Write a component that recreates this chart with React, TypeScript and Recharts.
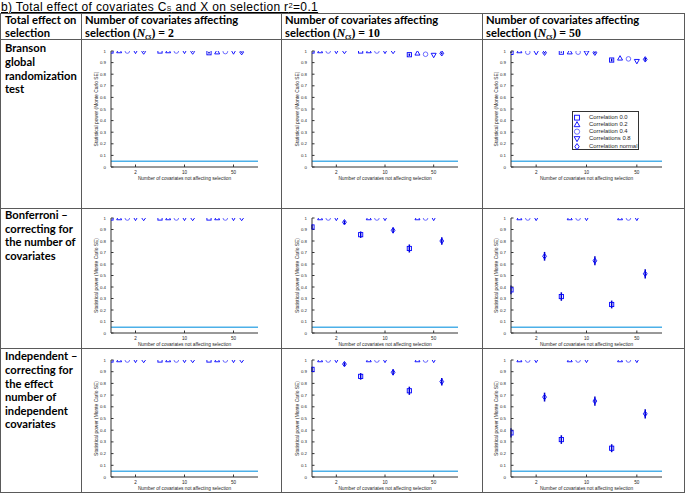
import React from 'react';
import { ScatterChart, Scatter, XAxis, YAxis, ReferenceLine, ErrorBar, Legend } from 'recharts';

// ---------- data ----------
const covariateCounts = ['2', '10', '50']; // x tick labels: number of covariates not affecting selection
const groupPositions = [1, 2, 3];
const seriesNames = ['Correlation 0.0', 'Correlation 0.2', 'Correlation 0.4', 'Correlations 0.8', 'Correlation normal'];
const seriesOffsets = [-0.5, -1 / 3, -1 / 6, 0, 1 / 6];
const yTicks = [0, 0.1, 0.2, 0.3, 0.4, 0.5, 0.6, 0.7, 0.8, 0.9, 1];
const alphaLevel = 0.05;

// rows of each array: series (0.0, 0.2, 0.4, 0.8, normal); columns: 2, 10, 50 covariates
const bransonN2Power = [
  [1.0, 1.0, 0.985],
  [1.0, 1.0, 0.99],
  [1.0, 1.0, 0.995],
  [1.0, 1.0, 0.995],
  [0.995, 0.995, 0.99],
];
const bransonN2SE = [
  [0, 0, 0.006],
  [0, 0, 0.005],
  [0, 0, 0.003],
  [0, 0, 0.003],
  [0.003, 0.003, 0.005],
];
const bransonN10Power = [
  [1.0, 1.0, 0.968],
  [1.0, 1.0, 0.98],
  [1.0, 1.0, 0.972],
  [1.0, 1.0, 0.965],
  [1.0, 1.0, 0.98],
];
const bransonN10SE = [
  [0, 0, 0.01],
  [0, 0, 0.008],
  [0, 0, 0.009],
  [0, 0, 0.011],
  [0, 0, 0.008],
];
const bransonN50Power = [
  [0.988, 0.99, 0.922],
  [1.0, 0.99, 0.937],
  [0.99, 0.99, 0.932],
  [0.99, 0.985, 0.912],
  [0.985, 0.985, 0.928],
];
const bransonN50SE = [
  [0.005, 0.005, 0.013],
  [0, 0.005, 0.012],
  [0.005, 0.005, 0.012],
  [0.005, 0.006, 0.014],
  [0.006, 0.006, 0.013],
];
const bonfN2Power = [
  [1.0, 1.0, 1.0],
  [1.0, 1.0, 1.0],
  [1.0, 1.0, 1.0],
  [1.0, 1.0, 1.0],
  [1.0, 1.0, 1.0],
];
const bonfN2SE = [
  [0, 0, 0],
  [0, 0, 0],
  [0, 0, 0],
  [0, 0, 0],
  [0, 0, 0],
];
const bonfN10Power = [
  [0.922, 0.855, 0.735],
  [1.0, 1.0, 1.0],
  [1.0, 1.0, 1.0],
  [1.0, 1.0, 1.0],
  [0.963, 0.893, 0.8],
];
const bonfN10SE = [
  [0.022, 0.028, 0.035],
  [0, 0, 0],
  [0, 0, 0],
  [0, 0, 0],
  [0.015, 0.025, 0.032],
];
const bonfN50Power = [
  [0.375, 0.317, 0.248],
  [1.0, 1.0, 1.0],
  [1.0, 1.0, 1.0],
  [1.0, 1.0, 1.0],
  [0.667, 0.628, 0.515],
];
const bonfN50SE = [
  [0.039, 0.037, 0.034],
  [0, 0, 0],
  [0, 0, 0],
  [0, 0, 0],
  [0.038, 0.039, 0.04],
];
const indepN2Power = [
  [1.0, 1.0, 1.0],
  [1.0, 1.0, 1.0],
  [1.0, 1.0, 1.0],
  [1.0, 1.0, 1.0],
  [1.0, 1.0, 1.0],
];
const indepN2SE = [
  [0, 0, 0],
  [0, 0, 0],
  [0, 0, 0],
  [0, 0, 0],
  [0, 0, 0],
];
const indepN10Power = [
  [0.92, 0.86, 0.737],
  [1.0, 1.0, 1.0],
  [1.0, 1.0, 1.0],
  [1.0, 1.0, 1.0],
  [0.965, 0.895, 0.815],
];
const indepN10SE = [
  [0.022, 0.028, 0.035],
  [0, 0, 0],
  [0, 0, 0],
  [0, 0, 0],
  [0.015, 0.025, 0.032],
];
const indepN50Power = [
  [0.377, 0.32, 0.246],
  [1.0, 1.0, 1.0],
  [1.0, 1.0, 1.0],
  [1.0, 1.0, 1.0],
  [0.683, 0.649, 0.54],
];
const indepN50SE = [
  [0.039, 0.037, 0.034],
  [0, 0, 0],
  [0, 0, 0],
  [0, 0, 0],
  [0.038, 0.039, 0.04],
];

const rowLabels = [
  ['Branson', 'global', 'randomization', 'test'],
  ['Bonferroni –', 'correcting for', 'the number of', 'covariates'],
  ['Independent –', 'correcting for', 'the effect', 'number of', 'independent', 'covariates'],
];
const ncsValues = ['2', '10', '50'];

// ---------- styling / layout ----------
const BLUE = '#0000ff';
const ERR = '#0000c8';
const AXIS = '#333333';
const TXT = '#262626';
const CYAN = '#4db0e8';
const BORDER = '#5a5a5a';
const TABLE_FONT = "Lato, 'Open Sans', sans-serif";
const TITLE_FONT = "'Liberation Sans', Arial, sans-serif";
const PLOT_FONT = "'Liberation Sans', Arial, sans-serif";
const MATH_FONT = "'Liberation Serif', 'DejaVu Serif', serif";

const colPlotX = [
  [111, 258],
  [312, 458],
  [511, 662],
];
const rowPlotY = [
  [51, 167],
  [218, 333],
  [360, 477],
];

function Marker({ kind, cx, cy, big }: { kind: number; cx: number; cy: number; big?: boolean }) {
  const k = big ? 1.15 : 1;
  const sw = 0.9;
  if (kind === 0) {
    const s = 4.2 * k;
    return <rect x={cx - s / 2} y={cy - s / 2} width={s} height={s} fill="none" stroke={BLUE} strokeWidth={sw} />;
  }
  if (kind === 1) {
    const w = 5 * k, h = 4.4 * k;
    return (
      <polygon
        points={`${cx},${cy - h * 0.6} ${cx - w / 2},${cy + h * 0.4} ${cx + w / 2},${cy + h * 0.4}`}
        fill="none"
        stroke={BLUE}
        strokeWidth={sw}
      />
    );
  }
  if (kind === 2) {
    return <circle cx={cx} cy={cy} r={2.3 * k} fill="none" stroke="#4a4aff" strokeWidth={0.8} />;
  }
  if (kind === 3) {
    const w = 5 * k, h = 4.4 * k;
    return (
      <polygon
        points={`${cx},${cy + h * 0.6} ${cx - w / 2},${cy - h * 0.4} ${cx + w / 2},${cy - h * 0.4}`}
        fill="none"
        stroke={BLUE}
        strokeWidth={sw}
      />
    );
  }
  const hw = 1.9 * k, hh = 2.7 * k;
  return (
    <polygon
      points={`${cx},${cy - hh} ${cx + hw},${cy} ${cx},${cy + hh} ${cx - hw},${cy}`}
      fill="none"
      stroke={BLUE}
      strokeWidth={sw}
    />
  );
}

function LegendBox(props: any) {
  const payload = [...(props.payload || [])].sort(
    (a: any, b: any) => seriesNames.indexOf(a.value) - seriesNames.indexOf(b.value)
  );
  return (
    <div
      style={{
        width: 67,
        height: 39,
        boxSizing: 'border-box',
        border: `0.8px solid ${AXIS}`,
        background: '#fff',
        paddingTop: 1.5,
      }}
    >
      {payload.map((p: any, i: number) => (
        <div key={i} style={{ display: 'flex', alignItems: 'center', height: 7.3 }}>
          <svg width={16} height={7.3} style={{ display: 'block' }}>
            <Marker kind={seriesNames.indexOf(p.value)} cx={4} cy={3.65} big />
          </svg>
          <span style={{ fontFamily: PLOT_FONT, fontSize: 5.9, color: TXT, lineHeight: '7.3px', whiteSpace: 'nowrap' }}>
            {p.value}
          </span>
        </div>
      ))}
    </div>
  );
}

const fmtY = (v: number) => (v === 0 ? '0' : v === 1 ? '1' : v.toFixed(1));
const fmtX = (v: number) => covariateCounts[v - 1];

function Panel({ col, row, power, se, legend }: { col: number; row: number; power: number[][]; se: number[][]; legend?: boolean }) {
  const [pl, pr] = colPlotX[col];
  const [pt, pb] = rowPlotY[row];
  const yAxisW = 30;
  const mTop = 5;
  const mRight = 5;
  const xAxisH = 20;
  const W = pr - pl + yAxisW + mRight;
  const H = pb - pt + mTop + xAxisH;
  return (
    <div style={{ position: 'absolute', left: pl - yAxisW, top: pt - mTop }}>
      <ScatterChart width={W} height={H} margin={{ top: mTop, right: mRight, bottom: 0, left: 0 }}>
        <XAxis
          xAxisId="b"
          type="number"
          dataKey="x"
          domain={[0.5, 3.5]}
          allowDataOverflow
          ticks={groupPositions}
          tickFormatter={fmtX}
          interval={0}
          height={xAxisH}
          stroke={AXIS}
          tickSize={-2.5}
          tickMargin={6.2}
          tick={{ fontSize: 4.6, fill: TXT, fontFamily: PLOT_FONT }}
          label={{ value: 'Number of covariates not affecting selection', position: 'insideTop', offset: 9.2, fontSize: 4.8, fill: TXT, fontFamily: PLOT_FONT }}
        />
        <XAxis
          xAxisId="t"
          orientation="top"
          type="number"
          domain={[0.5, 3.5]}
          allowDataOverflow
          ticks={groupPositions}
          tick={false}
          height={0}
          stroke={AXIS}
          tickSize={-2.5}
        />
        <YAxis
          yAxisId="l"
          type="number"
          dataKey="y"
          domain={[0, 1]}
          allowDataOverflow
          ticks={yTicks}
          tickFormatter={fmtY}
          interval={0}
          width={yAxisW}
          stroke={AXIS}
          tickSize={-2.5}
          tickMargin={7.5}
          tick={{ fontSize: 4.4, fill: TXT, fontFamily: PLOT_FONT }}
          label={{ value: 'Statistical power (Monte Carlo SE)', angle: -90, position: 'center', dx: 0, fontSize: 4.9, fill: TXT, fontFamily: PLOT_FONT }}
        />
        <YAxis
          yAxisId="r"
          orientation="right"
          type="number"
          domain={[0, 1]}
          allowDataOverflow
          ticks={yTicks}
          tick={false}
          width={0}
          stroke={AXIS}
          tickSize={-2.5}
        />
        <ReferenceLine xAxisId="b" yAxisId="l" y={alphaLevel} stroke={CYAN} strokeWidth={1.5} ifOverflow="extendDomain" />
        {seriesNames.map((name, s) => (
          <Scatter
            key={name}
            name={name}
            xAxisId="b"
            yAxisId="l"
            data={groupPositions.map((g, i) => ({ x: g + seriesOffsets[s], y: power[s][i], e: se[s][i] }))}
            fill={BLUE}
            isAnimationActive={false}
            shape={(p: any) => <Marker kind={s} cx={p.cx} cy={p.cy} />}
          >
            {s === 0 || s === 4 ? (
              <ErrorBar dataKey="e" direction="y" width={0} stroke={ERR} strokeWidth={1.5} />
            ) : null}
          </Scatter>
        ))}
        {legend ? (
          <Legend
            layout="vertical"
            align="center"
            verticalAlign="middle"
            content={LegendBox}
            wrapperStyle={{ left: 572 - (pl - yAxisW), top: 111 - (pt - mTop), width: 67, height: 39 }}
          />
        ) : null}
      </ScatterChart>
    </div>
  );
}

function Line({ x, y, w, h }: { x: number; y: number; w: number; h: number }) {
  return <div style={{ position: 'absolute', left: x, top: y, width: w, height: h, background: BORDER }} />;
}

function TextLine({ x, cy, children, style }: { x: number; cy: number; children: React.ReactNode; style?: React.CSSProperties }) {
  return (
    <div
      style={{
        position: 'absolute',
        left: x,
        top: cy,
        transform: 'translateY(-50%)',
        whiteSpace: 'nowrap',
        lineHeight: 1,
        fontFamily: TABLE_FONT,
        color: '#000',
        ...style,
      }}
    >
      {children}
    </div>
  );
}

const hLines = [13, 39, 208, 348, 492];
const vLines = [0, 81, 281, 482, 684];
const headerX = [85, 285, 486];
const rowLabelY = [
  [48, 62, 75.5, 89],
  [215, 228.5, 242, 256],
  [356, 370, 383.5, 397, 410.5, 424],
];

export default function App() {
  const panels = [
    [bransonN2Power, bransonN2SE, bransonN10Power, bransonN10SE, bransonN50Power, bransonN50SE],
    [bonfN2Power, bonfN2SE, bonfN10Power, bonfN10SE, bonfN50Power, bonfN50SE],
    [indepN2Power, indepN2SE, indepN10Power, indepN10SE, indepN50Power, indepN50SE],
  ];
  const bold: React.CSSProperties = { fontWeight: 700, fontSize: 11.2 };
  return (
    <div style={{ position: 'absolute', left: 0, top: 0, width: 685, height: 494, background: '#fff', overflow: 'hidden' }}>
      <div
        style={{
          position: 'absolute',
          left: 1,
          top: 0.9,
          fontFamily: TITLE_FONT,
          fontSize: 12,
          lineHeight: '12px',
          letterSpacing: 0.35,
          whiteSpace: 'nowrap',
          textDecoration: 'underline',
          textUnderlineOffset: 0.5,
          color: '#000',
        }}
      >
        b) Total effect of covariates C<sub style={{ fontSize: 6.8, verticalAlign: -0.3, lineHeight: 0 }}>S</sub> and X on selection r
        <sup style={{ fontSize: 7.5, verticalAlign: 3.3, lineHeight: 0 }}>2</sup>=0.1
      </div>
      {hLines.map((y) => (
        <Line key={'h' + y} x={0} y={y} w={685} h={1} />
      ))}
      {vLines.map((x) => (
        <Line key={'v' + x} x={x} y={13} w={1} h={480} />
      ))}
      <TextLine x={5} cy={19.6} style={bold}>Total effect on</TextLine>
      <TextLine x={5} cy={33} style={bold}>selection</TextLine>
      {headerX.map((x, i) => (
        <React.Fragment key={'hd' + i}>
          <TextLine x={x} cy={19.6} style={bold}>Number of covariates affecting</TextLine>
          <TextLine x={x} cy={33} style={bold}>
            selection{' '}
            <span style={{ fontFamily: MATH_FONT, fontSize: 11.8 }}>
              (<i>N</i>
              <sub style={{ fontSize: 7.5, fontStyle: 'italic', verticalAlign: -2, lineHeight: 0 }}>cs</sub>) = {ncsValues[i]}
            </span>
          </TextLine>
        </React.Fragment>
      ))}
      {rowLabels.map((lines, r) =>
        lines.map((t, j) => (
          <TextLine key={'rl' + r + j} x={5} cy={rowLabelY[r][j]} style={bold}>
            {t}
          </TextLine>
        ))
      )}
      {panels.map((p, r) =>
        [0, 1, 2].map((c) => (
          <Panel key={'p' + r + c} row={r} col={c} power={p[c * 2]} se={p[c * 2 + 1]} legend={r === 0 && c === 2} />
        ))
      )}
    </div>
  );
}
